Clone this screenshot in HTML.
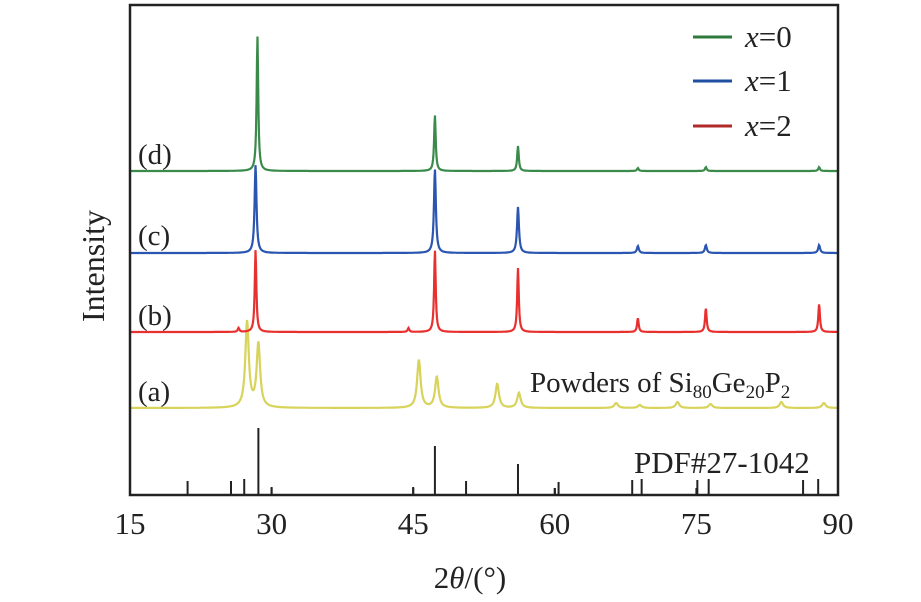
<!DOCTYPE html>
<html><head><meta charset="utf-8"><style>
body{margin:0;background:#fff}
svg text{font-family:"Liberation Serif",serif;fill:#222}
</style></head><body>
<svg id="c" width="921" height="597">
<g id="plot"></g>
<rect x="130" y="5" width="708" height="490" fill="none" stroke="#222" stroke-width="2.5"/>
<g id="ticks"></g>
<text x="470" y="588" font-size="31" text-anchor="middle">2<tspan font-style="italic">θ</tspan>/(°)</text>
<text transform="translate(104,266) rotate(-90)" font-size="32" text-anchor="middle">Intensity</text>
<text x="138" y="164" font-size="29">(d)</text>
<text x="138" y="245" font-size="29">(c)</text>
<text x="138" y="325" font-size="29">(b)</text>
<text x="138" y="401" font-size="29">(a)</text>
<text x="530" y="392" font-size="29">Powders of Si<tspan font-size="19" dy="6">80</tspan><tspan dy="-6">Ge</tspan><tspan font-size="19" dy="6">20</tspan><tspan dy="-6">P</tspan><tspan font-size="19" dy="6">2</tspan></text>
<text x="634" y="473" font-size="31">PDF#27-1042</text>
<g>
<line x1="693" y1="37" x2="732" y2="37" stroke="#2e7a3c" stroke-width="3"/>
<text x="745" y="47" font-size="31"><tspan font-style="italic">x</tspan>=0</text>
<line x1="693" y1="81" x2="732" y2="81" stroke="#1f4fa0" stroke-width="3"/>
<text x="745" y="91" font-size="31"><tspan font-style="italic">x</tspan>=1</text>
<line x1="693" y1="126" x2="732" y2="126" stroke="#b02a2a" stroke-width="3"/>
<text x="745" y="136" font-size="31"><tspan font-style="italic">x</tspan>=2</text>
</g>
</svg>
<script>
const xTicks=[15,30,45,60,75,90];
const refPos=[21.1,25.7,27.1,28.6,30.0,45.0,47.3,50.6,56.1,60.0,60.4,68.2,69.2,75.1,76.3,86.3,87.9];
const refInt=[14,14,16,67,8,8,49,14,31,7,13,15,16,15,16,15,16];
const gPos=[28.5,47.3,56.1,68.8,76.0,88.0];
const gInt=[135,56,25,3,4,4];
const bPos=[28.3,47.3,56.1,68.8,76.0,88.0];
const bInt=[88,84,46,7,8,8];
const rPos=[26.5,28.3,44.5,47.3,56.1,68.8,76.0,88.0];
const rInt=[4,82,4,82,64,14,24,28];
const yPos=[27.4,28.6,45.6,47.5,53.9,56.2,66.5,69.0,73.0,76.5,84.0,88.5];
const yInt=[86,64,48,31,24,15,5,3,6,4,6,5];
const NS='http://www.w3.org/2000/svg';
const X=v=>130+(v-15)*708/75;
const plot=document.getElementById('plot');
const tk=document.getElementById('ticks');
function mk(tag,attrs,parent){const e=document.createElementNS(NS,tag);for(const k in attrs)e.setAttribute(k,attrs[k]);parent.appendChild(e);return e;}
xTicks.forEach(t=>{
  const l=mk('line',{x1:X(t),x2:X(t),y1:495,y2:488,stroke:'#222','stroke-width':2},tk);
  
  
  const tx=mk('text',{x:X(t),y:534,'font-size':31,'text-anchor':'middle'},tk);
  tx.textContent=t;
  
  
});
refPos.forEach((p,i)=>{
  const l=mk('line',{x1:X(p),x2:X(p),y1:495,y2:495-refInt[i],stroke:'#222','stroke-width':2},plot);
  
  
});
function curve(pos,ints,base,w,color,name){
  let d='';
  for(let px=131;px<=837;px+=0.5){
    const v=15+(px-130)*75/708;let s=0;
    pos.forEach((p,i)=>{const q=(v-p)/w;s+=ints[i]/(1+q*q);});
    d+=(d?'L':'M')+px.toFixed(1)+','+(base-s).toFixed(1);
  }
  const e=mk('path',{d:d,fill:'none',stroke:color,'stroke-width':2.2},plot);
  
  
}
curve(yPos,yInt,408,0.22,'#d8d35a','series-a-powder');
curve(rPos,rInt,332,0.1,'#e8302e','series-b-x2');
curve(bPos,bInt,253,0.12,'#2a55b0','series-c-x1');
curve(gPos,gInt,171,0.1,'#3a8a4a','series-d-x0');
</script>
</body></html>
